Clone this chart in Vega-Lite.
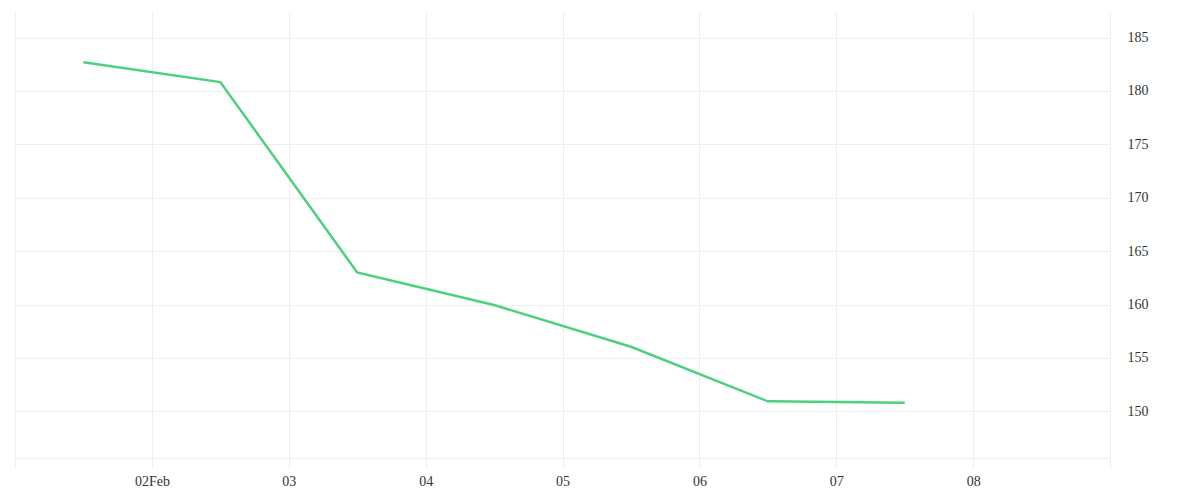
{
  "$schema": "https://vega.github.io/schema/vega-lite/v6.json",
  "width": 1095,
  "height": 446,
  "autosize": {"type": "none"},
  "padding": {"left": 15, "top": 12, "right": 90, "bottom": 42},
  "background": "#ffffff",
  "config": {
    "view": {"stroke": null},
    "axis": {"labelFont": "Liberation Serif", "labelFontSize": 14, "labelColor": "#333333"}
  },
  "data": {
    "values": [
      {"date": "2024-02-01T12:00:00", "value": 182.68},
      {"date": "2024-02-02T12:00:00", "value": 180.83},
      {"date": "2024-02-03T12:00:00", "value": 163.01},
      {"date": "2024-02-04T12:00:00", "value": 159.95},
      {"date": "2024-02-05T12:00:00", "value": 156.05},
      {"date": "2024-02-06T12:00:00", "value": 150.94},
      {"date": "2024-02-07T12:00:00", "value": 150.81}
    ]
  },
  "mark": {"type": "line", "color": "#4cd07d", "strokeWidth": 2.5},
  "encoding": {
    "x": {
      "field": "date",
      "type": "temporal",
      "title": null,
      "scale": {
        "domain": [
          {"year": 2024, "month": 2, "date": 1},
          {"year": 2024, "month": 2, "date": 9}
        ]
      },
      "axis": {
        "values": [
          {"year": 2024, "month": 2, "date": 1},
          {"year": 2024, "month": 2, "date": 2},
          {"year": 2024, "month": 2, "date": 3},
          {"year": 2024, "month": 2, "date": 4},
          {"year": 2024, "month": 2, "date": 5},
          {"year": 2024, "month": 2, "date": 6},
          {"year": 2024, "month": 2, "date": 7},
          {"year": 2024, "month": 2, "date": 8},
          {"year": 2024, "month": 2, "date": 9}
        ],
        "labelExpr": "date(datum.value) == 1 || date(datum.value) == 9 ? '' : (date(datum.value) == 2 ? timeFormat(datum.value, '%dFeb') : timeFormat(datum.value, '%d'))",
        "grid": true,
        "gridColor": "#eeeeee",
        "gridWidth": 1,
        "tickSize": 10,
        "tickColor": "#eeeeee",
        "domainColor": "#eeeeee",
        "labelPadding": 6,
        "labelFlush": false,
        "labelOverlap": false
      }
    },
    "y": {
      "field": "value",
      "type": "quantitative",
      "title": null,
      "scale": {"domain": [145.63, 187.39], "nice": false, "zero": false},
      "axis": {
        "orient": "right",
        "values": [150, 155, 160, 165, 170, 175, 180, 185],
        "domain": false,
        "ticks": false,
        "grid": true,
        "gridColor": "#eeeeee",
        "labelPadding": 17,
        "labelAlign": "left",
        "labelBaseline": "middle"
      }
    }
  }
}
